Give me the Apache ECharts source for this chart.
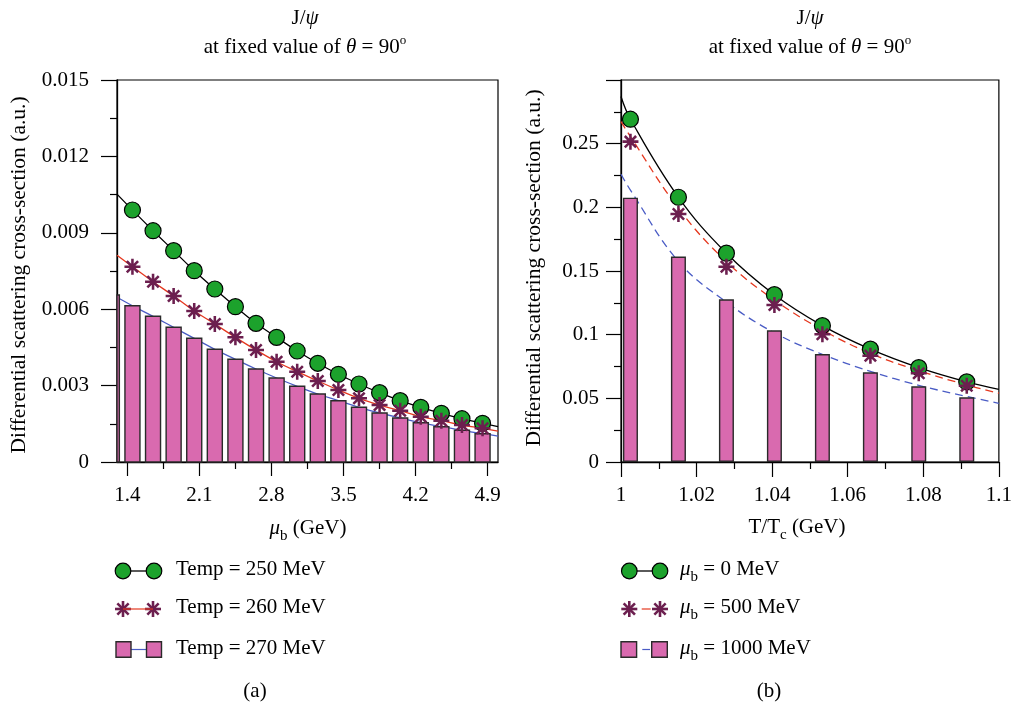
<!DOCTYPE html>
<html><head><meta charset="utf-8">
<script src="https://cdn.jsdelivr.net/npm/echarts@6/dist/echarts.min.js"></script>
<style>html,body{margin:0;padding:0;background:#fff}#c{width:1015px;height:708px}</style>
</head><body><div id="c"></div>
<script>
// ---------- panel (a) data ----------
const muPts = [1.45,1.65,1.85,2.05,2.25,2.45,2.65,2.85,3.05,3.25,3.45,3.65,3.85,4.05,4.25,4.45,4.65,4.85];
const temp250 = [0.009895,0.009082,0.008297,0.007512,0.006793,0.006098,0.005446,0.004896,0.004359,0.003876,0.003444,0.003063,0.002721,0.002407,0.002148,0.001912,0.00170,0.00152];
const temp260 = [0.007669,0.00708,0.006518,0.005929,0.005419,0.004896,0.004398,0.003938,0.003546,0.003181,0.002827,0.002501,0.002238,0.002014,0.001779,0.001622,0.001453,0.001323];
const muBars = [1.25,1.45,1.65,1.85,2.05,2.25,2.45,2.65,2.85,3.05,3.25,3.45,3.65,3.85,4.05,4.25,4.45,4.65,4.85];
const temp270 = [0.00656,0.006137,0.005721,0.005289,0.004857,0.004425,0.004033,0.003652,0.003298,0.002972,0.00267,0.002407,0.002148,0.001924,0.001728,0.001543,0.001386,0.001245,0.001111];
const fitXA = [1.3,1.45,1.65,1.85,2.05,2.25,2.45,2.65,2.85,3.05,3.25,3.45,3.65,3.85,4.05,4.25,4.45,4.65,4.85,5.0];
const fit250 = [0.01052,0.009895,0.009082,0.008297,0.007512,0.006793,0.006098,0.005446,0.004896,0.004359,0.003876,0.003444,0.003063,0.002721,0.002407,0.002148,0.001912,0.00170,0.00152,0.001386];
const fit260 = [0.00812,0.007669,0.00708,0.006518,0.005929,0.005419,0.004896,0.004398,0.003938,0.003546,0.003181,0.002827,0.002501,0.002238,0.002014,0.001779,0.001622,0.001453,0.001323,0.00121];
const fit270 = [0.00647,0.006137,0.005721,0.005289,0.004857,0.004425,0.004033,0.003652,0.003298,0.002972,0.00267,0.002407,0.002148,0.001924,0.001728,0.001543,0.001386,0.001245,0.001111,0.00102];
const xTicksA = [1.4,2.1,2.8,3.5,4.2,4.9];
const xMinorA = [1.75,2.45,3.15,3.85,4.55];

// ---------- panel (b) data ----------
const tRatio = [1.0025,1.0152,1.0279,1.0406,1.0533,1.066,1.0788,1.0915];
const mu0 = [0.2692,0.2079,0.1640,0.1314,0.1071,0.0886,0.0741,0.0629];
const mu500 = [0.2516,0.1948,0.1534,0.1233,0.1003,0.0835,0.0697,0.0599];
const mu1000 = [0.2076,0.1613,0.1278,0.1034,0.0848,0.0705,0.0595,0.0508];
const fitXB = [1.0,1.0025,1.0152,1.0279,1.0406,1.0533,1.066,1.0788,1.0915,1.1];
const fitMu0 = [0.287,0.2692,0.2079,0.1640,0.1314,0.1071,0.0886,0.0741,0.0629,0.0571];
const fitMu500 = [0.2673,0.2555,0.1992,0.1573,0.1272,0.1037,0.0853,0.0717,0.0605,0.054];
const fitMu1000 = [0.226,0.2135,0.1575,0.1255,0.1015,0.0845,0.0712,0.0602,0.0515,0.0461];

const zip = (xs, ys) => xs.map((x, i) => [x, ys[i]]);
const FONT = '"Liberation Serif", "DejaVu Serif", serif';
const FS = 21;
const GREEN = '#1ca22c', STARC = '#6c1f4f', PINK = '#d96aaf', RED = '#e5381f', BLUE = '#4a5cc5';
const STAR = 'M-10 -1.6L10 -1.6L10 1.6L-10 1.6Z M-1.6 -10L1.6 -10L1.6 10L-1.6 10Z ' +
  'M-5.94 -8.202L8.202 5.94L5.94 8.202L-8.202 -5.94Z M-8.202 5.94L5.94 -8.202L8.202 -5.94L-5.94 8.202Z';

const tickStyle = {color: '#000', width: 1.2};
const labelBase = {color: '#000', fontFamily: FONT, fontSize: FS};

const chart = echarts.init(document.getElementById('c'), null, {renderer: 'canvas'});

function legendStar(cx, cy) {
  const st = {stroke: STARC, lineWidth: 2.6};
  return {type: 'group', x: cx, y: cy, z: 10, children: [
    {type: 'line', shape: {x1: -8, y1: 0, x2: 8, y2: 0}, style: st},
    {type: 'line', shape: {x1: 0, y1: -8, x2: 0, y2: 8}, style: st},
    {type: 'line', shape: {x1: -5.66, y1: -5.66, x2: 5.66, y2: 5.66}, style: st},
    {type: 'line', shape: {x1: -5.66, y1: 5.66, x2: 5.66, y2: -5.66}, style: st}
  ]};
}
function txt(x, y, text, opts) {
  return {type: 'text', x: x, y: y, z: 10,
    style: Object.assign({text: text, fill: '#000', fontFamily: FONT, fontSize: FS,
      textAlign: 'left', textVerticalAlign: 'middle'}, opts || {})};
}
function richMain(fs) {
  return {
    n: {fontFamily: FONT, fontSize: fs, lineHeight: 31, color: '#000'},
    i: {fontFamily: FONT, fontSize: fs, fontStyle: 'italic', lineHeight: 31, color: '#000'},
    b: {fontFamily: FONT, fontSize: 15, lineHeight: 15, verticalAlign: 'bottom', color: '#000'}
  };
}
const richSup = {
  n: {fontFamily: FONT, fontSize: FS, lineHeight: 25, color: '#000'},
  i: {fontFamily: FONT, fontSize: FS, fontStyle: 'italic', lineHeight: 25, color: '#000'},
  s: {fontFamily: FONT, fontSize: 13, lineHeight: 12, verticalAlign: 'top', color: '#000'}
};

const graphics = [];
[305, 810].forEach(cx => {
  graphics.push(txt(cx, 18, '{n|J/}{i|ψ}', {textAlign: 'center', rich: richSup}));
  graphics.push(txt(cx, 47, '{n|at fixed value of }{i|θ}{n| = 90}{s|o}', {textAlign: 'center', rich: richSup}));
});
const yn1 = txt(19, 275, 'Differential scattering cross-section (a.u.)', {textAlign: 'center', fontSize: 21.5});
yn1.rotation = Math.PI / 2; graphics.push(yn1);
const yn2 = txt(534, 268, 'Differential scattering cross-section (a.u.)', {textAlign: 'center', fontSize: 21.5});
yn2.rotation = Math.PI / 2; graphics.push(yn2);
graphics.push(txt(308, 528, '{i|μ}{b|b}{n| (GeV)}', {textAlign: 'center', rich: richMain(FS)}));
graphics.push(txt(797, 527, '{n|T/T}{b|c}{n| (GeV)}', {textAlign: 'center', rich: richMain(FS)}));
// legend (a)
graphics.push({type: 'line', shape: {x1: 123, y1: 571, x2: 154, y2: 571}, style: {stroke: '#000', lineWidth: 1.3}, z: 9});
graphics.push({type: 'circle', shape: {cx: 123, cy: 571, r: 7.8}, style: {fill: GREEN, stroke: '#000', lineWidth: 1.2}, z: 10});
graphics.push({type: 'circle', shape: {cx: 154, cy: 571, r: 7.8}, style: {fill: GREEN, stroke: '#000', lineWidth: 1.2}, z: 10});
graphics.push({type: 'line', shape: {x1: 123, y1: 609, x2: 153, y2: 609}, style: {stroke: RED, lineWidth: 1.2}, z: 9});
graphics.push(legendStar(123, 609));
graphics.push(legendStar(153, 609));
graphics.push({type: 'line', shape: {x1: 131, y1: 649.5, x2: 146, y2: 649.5}, style: {stroke: BLUE, lineWidth: 1.2}, z: 9});
graphics.push({type: 'rect', shape: {x: 116, y: 641.7, width: 15, height: 15.6}, style: {fill: PINK, stroke: '#2a2a2a', lineWidth: 1.4}, z: 10});
graphics.push({type: 'rect', shape: {x: 146.5, y: 641.7, width: 15, height: 15.6}, style: {fill: PINK, stroke: '#2a2a2a', lineWidth: 1.4}, z: 10});
graphics.push(txt(176, 569, 'Temp = 250 MeV'));
graphics.push(txt(176, 607, 'Temp = 260 MeV'));
graphics.push(txt(176, 648, 'Temp = 270 MeV'));
// legend (b)
graphics.push({type: 'line', shape: {x1: 629.3, y1: 571, x2: 660, y2: 571}, style: {stroke: '#000', lineWidth: 1.3}, z: 9});
graphics.push({type: 'circle', shape: {cx: 629.3, cy: 571, r: 7.8}, style: {fill: GREEN, stroke: '#000', lineWidth: 1.2}, z: 10});
graphics.push({type: 'circle', shape: {cx: 660, cy: 571, r: 7.8}, style: {fill: GREEN, stroke: '#000', lineWidth: 1.2}, z: 10});
graphics.push({type: 'line', shape: {x1: 641.7, y1: 609, x2: 650.7, y2: 609}, style: {stroke: RED, lineWidth: 1.2}, z: 9});
graphics.push(legendStar(629.3, 609));
graphics.push(legendStar(660, 609));
graphics.push({type: 'line', shape: {x1: 642.3, y1: 649.5, x2: 650, y2: 649.5}, style: {stroke: BLUE, lineWidth: 1.2}, z: 9});
graphics.push({type: 'rect', shape: {x: 621, y: 641.7, width: 15.6, height: 15.6}, style: {fill: PINK, stroke: '#2a2a2a', lineWidth: 1.4}, z: 10});
graphics.push({type: 'rect', shape: {x: 651.7, y: 641.7, width: 15.6, height: 15.6}, style: {fill: PINK, stroke: '#2a2a2a', lineWidth: 1.4}, z: 10});
graphics.push(txt(680, 569, '{i|μ}{b|b}{n| = 0 MeV}', {rich: richMain(FS)}));
graphics.push(txt(680, 607, '{i|μ}{b|b}{n| = 500 MeV}', {rich: richMain(FS)}));
graphics.push(txt(680, 648, '{i|μ}{b|b}{n| = 1000 MeV}', {rich: richMain(FS)}));
graphics.push(txt(255, 691, '(a)', {textAlign: 'center'}));
graphics.push(txt(769, 691, '(b)', {textAlign: 'center'}));

function lineSeries(xi, xs, ys, color, dashed) {
  return {type: 'line', xAxisIndex: xi, yAxisIndex: xi === 2 ? 1 : 0, data: zip(xs, ys), symbol: 'none', showSymbol: false,
    smooth: 0.4, lineStyle: {color: color, width: 1.3, type: dashed ? [8, 5] : 'solid'}, z: 2, silent: true};
}

// bars drawn through the axis scales, clipped to the plot rectangle
function clippedBar(params, api) {
  const x = api.value(0), y = api.value(1);
  const top = api.coord([x, y]);
  const base = api.coord([x, 0]);
  const w = 15;
  const cs = params.coordSys;
  const rect = echarts.graphic.clipRectByRect(
    {x: top[0] - w / 2, y: top[1], width: w, height: base[1] - top[1]},
    {x: cs.x, y: cs.y, width: cs.width, height: cs.height});
  return rect ? {type: 'rect', shape: rect, style: {fill: PINK, stroke: '#2a2a2a', lineWidth: 1.4}} : null;
}

const option = {
  animation: false,
  backgroundColor: '#fff',
  textStyle: {fontFamily: FONT},
  grid: [
    {left: 117, top: 80, width: 381, height: 382, show: true, borderColor: '#000', borderWidth: 1.2, backgroundColor: 'transparent'},
    {left: 621, top: 80, width: 381, height: 382, show: true, borderColor: '#000', borderWidth: 1.2, backgroundColor: 'transparent'}
  ],
  xAxis: [
    {gridIndex: 0, type: 'value', position: 'bottom', min: 1.3, max: 5.0,
      axisLine: {show: true, onZero: false, lineStyle: {color: '#000', width: 1.3}},
      axisTick: {show: true, customValues: xTicksA, length: 14, lineStyle: tickStyle},
      axisLabel: Object.assign({customValues: xTicksA, formatter: v => v.toFixed(1), margin: 23}, labelBase),
      splitLine: {show: false}},
    {gridIndex: 0, type: 'value', position: 'bottom', min: 1.3, max: 5.0,
      axisLine: {show: false, onZero: false},
      axisTick: {show: true, customValues: xMinorA, length: 7, lineStyle: tickStyle},
      axisLabel: {show: false}, splitLine: {show: false}},
    {gridIndex: 1, type: 'value', position: 'bottom', min: 1.0, max: 1.1, interval: 0.02,
      axisLine: {show: true, onZero: false, lineStyle: {color: '#000', width: 1.3}},
      axisTick: {show: true, length: 15, lineStyle: tickStyle},
      minorTick: {show: true, splitNumber: 2, length: 7, lineStyle: tickStyle},
      axisLabel: Object.assign({formatter: v => String(parseFloat(v.toFixed(2))), margin: 23}, labelBase),
      splitLine: {show: false}, minorSplitLine: {show: false}}
  ],
  yAxis: [
    {gridIndex: 0, type: 'value', min: 0, max: 0.015, interval: 0.003,
      axisLine: {show: true, onZero: false, lineStyle: {color: '#000', width: 1.3}},
      axisTick: {show: true, length: 16, lineStyle: tickStyle},
      minorTick: {show: true, splitNumber: 2, length: 7, lineStyle: tickStyle},
      axisLabel: Object.assign({formatter: v => v === 0 ? '0' : v.toFixed(3), margin: 28}, labelBase),
      splitLine: {show: false}, minorSplitLine: {show: false}},
    {gridIndex: 1, type: 'value', min: 0, max: 0.3, interval: 0.05,
      axisLine: {show: true, onZero: false, lineStyle: {color: '#000', width: 1.3}},
      axisTick: {show: true, length: 15, lineStyle: tickStyle},
      minorTick: {show: true, splitNumber: 2, length: 7, lineStyle: tickStyle},
      axisLabel: Object.assign({formatter: v => v > 0.29 ? '' : String(parseFloat(v.toFixed(2))), margin: 22}, labelBase),
      splitLine: {show: false}, minorSplitLine: {show: false}}
  ],
  series: [
    lineSeries(0, fitXA, fit250, '#000', false),
    lineSeries(0, fitXA, fit260, RED, false),
    lineSeries(0, fitXA, fit270, BLUE, false),
    {type: 'custom', name: 'Temp = 270 MeV', xAxisIndex: 0, yAxisIndex: 0, data: zip(muBars, temp270),
      encode: {x: 0, y: 1}, renderItem: clippedBar, z: 3, silent: true},
    {type: 'scatter', name: 'Temp = 250 MeV', xAxisIndex: 0, yAxisIndex: 0, data: zip(muPts, temp250), symbol: 'circle', symbolSize: 16,
      itemStyle: {color: GREEN, borderColor: '#000', borderWidth: 1.2, opacity: 1}, z: 4},
    {type: 'scatter', name: 'Temp = 260 MeV', xAxisIndex: 0, yAxisIndex: 0, data: zip(muPts, temp260), symbol: 'path://' + STAR, symbolSize: 16,
      itemStyle: {color: STARC, opacity: 1}, z: 5},

    lineSeries(2, fitXB, fitMu0, '#000', false),
    lineSeries(2, fitXB, fitMu500, RED, true),
    lineSeries(2, fitXB, fitMu1000, BLUE, true),
    {type: 'bar', name: 'mu 1000', xAxisIndex: 2, yAxisIndex: 1, data: zip(tRatio, mu1000), barWidth: 15,
      itemStyle: {color: PINK, borderColor: '#2a2a2a', borderWidth: 1.4}, z: 3},
    {type: 'scatter', name: 'mu 0', xAxisIndex: 2, yAxisIndex: 1, data: zip(tRatio, mu0), symbol: 'circle', symbolSize: 16,
      itemStyle: {color: GREEN, borderColor: '#000', borderWidth: 1.2, opacity: 1}, z: 4},
    {type: 'scatter', name: 'mu 500', xAxisIndex: 2, yAxisIndex: 1, data: zip(tRatio, mu500), symbol: 'path://' + STAR, symbolSize: 16,
      itemStyle: {color: STARC, opacity: 1}, z: 5}
  ],
  graphic: graphics
};
chart.setOption(option);
</script>
</body></html>
